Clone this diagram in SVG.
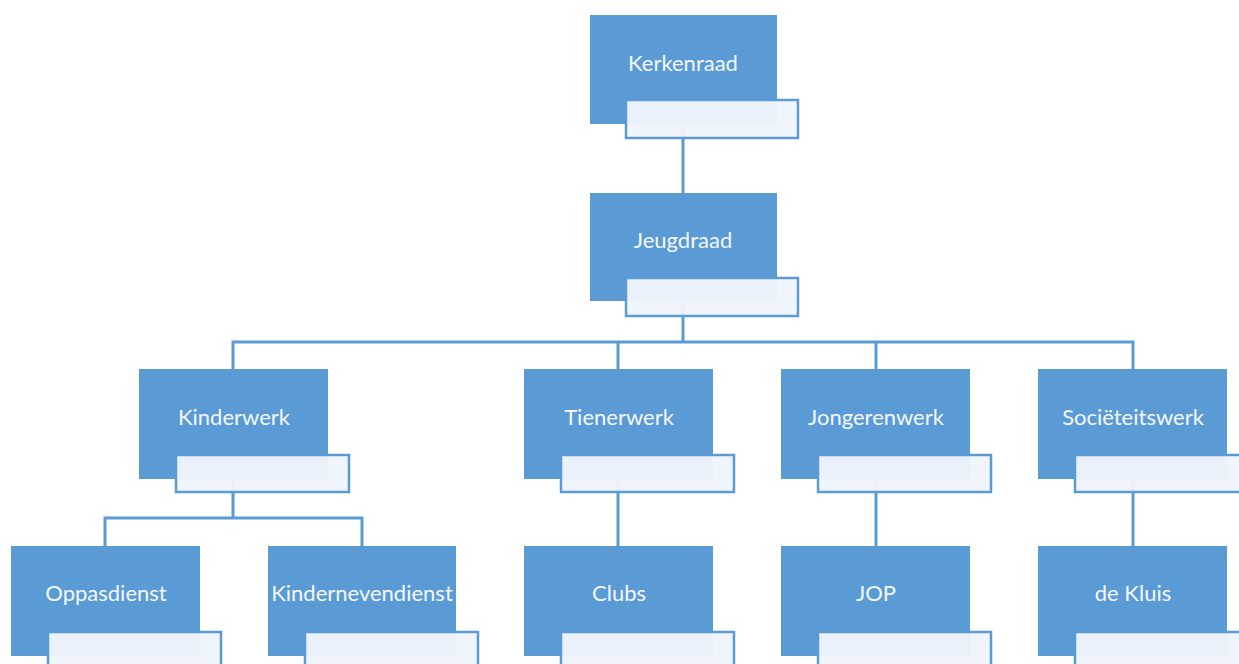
<svg xmlns="http://www.w3.org/2000/svg" width="1239" height="664" viewBox="0 0 1239 664">
<style>
.box{fill:#5B9BD5;}
.sub{fill:#EFF4FB;fill-opacity:0.97;stroke:#5B9BD5;stroke-width:2.5;}
.lbl{font-family:Lato,"Open Sans",sans-serif;font-size:22px;fill:#F3F7FC;text-anchor:middle;}
.con{fill:none;stroke:#5B9BD5;stroke-width:3;}
</style>
<rect width="1239" height="664" fill="#FFFFFF"/>
<g id="connectors">
<path class="con" d="M683 124V193"/>
<path class="con" d="M683 301V342M233 369V342H1133V369M618 342V369M876 342V369"/>
<path class="con" d="M233 479V518M105 546V518H362V546"/>
<path class="con" d="M618 479V546"/>
<path class="con" d="M876 479V546"/>
<path class="con" d="M1133 479V546"/>
</g>
<g id="kerkenraad"><rect class="box" x="590" y="15" width="187" height="109"/><rect class="sub" x="626" y="100" width="172" height="38"/><text class="lbl" x="683" y="71">Kerkenraad</text></g>
<g id="jeugdraad"><rect class="box" x="590" y="193" width="187" height="108"/><rect class="sub" x="626" y="278" width="172" height="38"/><text class="lbl" x="683" y="248">Jeugdraad</text></g>
<g id="kinderwerk"><rect class="box" x="139" y="369" width="189" height="110"/><rect class="sub" x="176" y="455" width="173" height="37"/><text class="lbl" x="234" y="425">Kinderwerk</text></g>
<g id="tienerwerk"><rect class="box" x="524" y="369" width="189" height="110"/><rect class="sub" x="561" y="455" width="173" height="37"/><text class="lbl" x="619" y="425">Tienerwerk</text></g>
<g id="jongerenwerk"><rect class="box" x="781" y="369" width="189" height="110"/><rect class="sub" x="818" y="455" width="173" height="37"/><text class="lbl" x="876" y="425">Jongerenwerk</text></g>
<g id="societeitswerk"><rect class="box" x="1038" y="369" width="189" height="110"/><rect class="sub" x="1075" y="455" width="173" height="37"/><text class="lbl" x="1133" y="425">Sociëteitswerk</text></g>
<g id="oppasdienst"><rect class="box" x="11" y="546" width="189" height="110"/><rect class="sub" x="48" y="632" width="173" height="40"/><text class="lbl" x="106" y="601">Oppasdienst</text></g>
<g id="kindernevendienst"><rect class="box" x="268" y="546" width="188" height="110"/><rect class="sub" x="305" y="632" width="173" height="40"/><text class="lbl" x="362" y="601">Kindernevendienst</text></g>
<g id="clubs"><rect class="box" x="524" y="546" width="189" height="110"/><rect class="sub" x="561" y="632" width="173" height="40"/><text class="lbl" x="619" y="601">Clubs</text></g>
<g id="jop"><rect class="box" x="781" y="546" width="189" height="110"/><rect class="sub" x="818" y="632" width="173" height="40"/><text class="lbl" x="876" y="601">JOP</text></g>
<g id="dekluis"><rect class="box" x="1038" y="546" width="189" height="110"/><rect class="sub" x="1075" y="632" width="173" height="40"/><text class="lbl" x="1133" y="601">de Kluis</text></g>
</svg>
